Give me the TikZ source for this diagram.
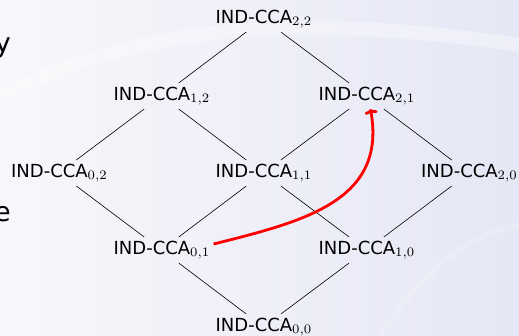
\documentclass[tikz,border=0pt]{standalone}
\usepackage[no-math]{fontspec}
\usepackage{graphicx}
\setmainfont{DejaVu Sans}
\usetikzlibrary{arrows.meta}
\newcommand\idx[2]{\raisebox{-1.8pt}{\scalebox{1.85}{\fontsize{7}{8}\selectfont$#1{,}#2$}}}
\begin{document}
\begin{tikzpicture}[x=1pt,y=-1pt,
  lab/.style={font=\fontsize{18}{20}\selectfont, inner sep=4pt},
  slide/.style={font=\fontsize{27}{30}\selectfont, inner sep=0pt, anchor=base east},
  link/.style={draw=black, line width=0.6pt},
  imp/.style={draw=red, line width=2.8pt, -{To[length=5pt,width=13pt]}}]
\definecolor{bgl}{RGB}{247,247,251}
\definecolor{bgr}{RGB}{229,231,245}
\useasboundingbox (0,0) rectangle (519,335);
\shade[left color=bgl, right color=bgr] (0,0) rectangle (519,335);
\draw[white, line width=14pt, opacity=0.35] (0,95) .. controls (120,40) and (250,5) .. (519,45);
\draw[white, line width=6pt, opacity=0.15] (380,335) .. controls (430,260) and (480,230) .. (519,225);
% partial slide text
\node[slide] (ty) at (11,52) {y};
\node[slide] (te) at (11,221) {e};
% lattice
\node[lab] (n22) at (263.5,19)  {IND-CCA\idx22};
\node[lab] (n12) at (161.5,96)  {IND-CCA\idx12};
\node[lab] (n21) at (366.5,96)  {IND-CCA\idx21};
\node[lab] (n02) at (59,173)    {IND-CCA\idx02};
\node[lab] (n11) at (263.5,173) {IND-CCA\idx11};
\node[lab] (n20) at (469,173)   {IND-CCA\idx20};
\node[lab] (n01) at (161.5,250) {IND-CCA\idx01};
\node[lab] (n10) at (366.5,250) {IND-CCA\idx10};
\node[lab] (n00) at (263.5,327) {IND-CCA\idx00};
\draw[link] (n22) -- (n12);
\draw[link] (n22) -- (n21);
\draw[link] (n12) -- (n02);
\draw[link] (n12) -- (n11);
\draw[link] (n21) -- (n11);
\draw[link] (n21) -- (n20);
\draw[link] (n02) -- (n01);
\draw[link] (n11) -- (n01);
\draw[link] (n11) -- (n10);
\draw[link] (n20) -- (n10);
\draw[link] (n01) -- (n00);
\draw[link] (n10) -- (n00);
\draw[imp] ([yshift=6pt]n01.east) to[out=14,in=-80,looseness=1.15] ([xshift=4pt]n21.south);
\end{tikzpicture}
\end{document}
